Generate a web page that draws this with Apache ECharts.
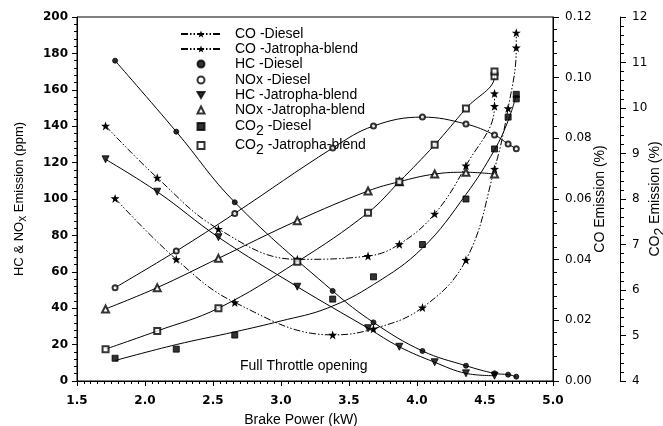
<!DOCTYPE html>
<html>
<head>
<meta charset="utf-8">
<script src="https://cdn.jsdelivr.net/npm/echarts@6/dist/echarts.min.js"></script>
<style>
  html, body { margin: 0; padding: 0; background: #fff; }
  #main { width: 663px; height: 426px; }
</style>
</head>
<body>
<div id="main"></div>
<script>
// brake power (kW) of the test points
var xDiesel = [1.78, 2.23, 2.66, 3.38, 3.68, 4.04, 4.36, 4.57, 4.67, 4.73];
var xDieselEnd = [1.78, 2.23, 2.66, 3.38, 3.68, 4.04, 4.36, 4.57, 4.67, 4.73, 4.73];
var xJatropha = [1.71, 2.09, 2.54, 3.12, 3.64, 3.87, 4.13, 4.36, 4.57];
var xJatrophaEnd = [1.71, 2.09, 2.54, 3.12, 3.64, 3.87, 4.13, 4.36, 4.57, 4.57];

// CO (%)
var coDiesel = [0.0602, 0.0401, 0.0259, 0.0152, 0.0172, 0.0242, 0.0399, 0.0699, 0.0899, 0.1099, 0.1148];
var coJatropha = [0.0841, 0.0670, 0.0501, 0.0401, 0.0412, 0.0451, 0.0551, 0.0710, 0.0906, 0.0948];
// HC & NOx (ppm)
var hcDiesel = [176, 137, 98.2, 49.5, 32.2, 16.5, 8.4, 4.2, 3.5, 2.4];
var noxDiesel = [51.3, 71.4, 92.1, 128, 140.1, 145, 141.2, 135.2, 130.2, 127.6];
var hcJatropha = [121.8, 104, 79, 51.8, 29, 18.8, 10.3, 4.2, 2.9];
var noxJatropha = [39.6, 51.3, 67.4, 88.1, 104.4, 109.5, 113.7, 114.7, 113.7];
// CO2 (%)
var co2Diesel = [4.50, 4.70, 5.01, 5.80, 6.29, 7.00, 8.00, 9.10, 9.80, 10.30, 10.20];
var co2Jatropha = [4.70, 5.10, 5.60, 6.62, 7.70, 8.38, 9.19, 9.99, 10.70, 10.80];
// fitted trend line for CO2 diesel
var xCo2DieselFit = [1.78, 2.23, 2.66, 3.0, 3.34, 3.68, 4.04, 4.36, 4.57, 4.67, 4.73];
var co2DieselFit = [4.45, 4.80, 5.08, 5.32, 5.60, 6.12, 6.92, 8.10, 9.08, 9.72, 10.28];

var leftTicks = { min: 0, max: 200, interval: 20 };
var coTicks = { min: 0, max: 0.12, interval: 0.02 };
var co2Ticks = { min: 4, max: 12, interval: 1 };

var legendNames = ['CO -Diesel', 'CO -Jatropha-blend', 'HC -Diesel', 'NOx -Diesel',
    'HC -Jatropha-blend', 'NOx -Jatropha-blend', 'CO2 -Diesel', 'CO2 -Jatropha-blend'];
var legendRows = [34, 49, 64, 80, 95, 110, 126, 145]; // centre y of each legend row

var FONT = 'Liberation Sans, Arial, sans-serif';
var STAR = 'path://M0,-10L2.35,-3.24L9.51,-3.09L3.8,1.24L5.88,8.09L0,4L-5.88,8.09L-3.8,1.24L-9.51,-3.09L-2.35,-3.24Z';
var DOWN_TRIANGLE = 'path://M0,0L10,0L5,8.66Z';
var DASHDOT = [7, 2, 1.5, 2, 1.5, 2];

function pairs(xs, ys) {
    return xs.map(function (x, i) { return [x, ys[i]]; });
}

// smooth trend curve, no markers, not in legend
function curve(name, xs, ys, axis) {
    return {
        name: name, type: 'line', yAxisIndex: axis, data: pairs(xs, ys),
        smooth: 0.4, symbol: 'none', silent: true, z: 2,
        lineStyle: { color: '#000', width: 1 }
    };
}

// measured points
function points(name, xs, ys, axis, symbol, size, rotate) {
    return {
        name: name, type: 'scatter', yAxisIndex: axis, data: pairs(xs, ys),
        symbol: symbol, symbolSize: size, symbolRotate: rotate || 0, z: 4,
        itemStyle: { color: '#000', borderColor: '#000', borderWidth: 1 }
    };
}

function coLine(name, xs, ys) {
    return {
        name: name, type: 'line', yAxisIndex: 1, data: pairs(xs, ys),
        smooth: 0.4, symbol: STAR, symbolSize: 9, showSymbol: true, z: 3,
        itemStyle: { color: '#000' },
        lineStyle: { color: '#000', width: 1, type: DASHDOT }
    };
}

function axisBase(ticks) {
    return {
        type: 'value', min: ticks.min, max: ticks.max, interval: ticks.interval,
        nameMoveOverlap: false,
        axisLine: { show: true, onZero: false, lineStyle: { color: '#000', width: 1 } },
        axisTick: { show: true, length: 5, lineStyle: { color: '#000' } },
        minorTick: { show: true, splitNumber: 5, length: 3, lineStyle: { color: '#000' } },
        splitLine: { show: false }
    };
}

var subRich = {
    n: { fontFamily: FONT, fontSize: 14, color: '#000', lineHeight: 15, verticalAlign: 'top' },
    s: { fontFamily: FONT, fontSize: 14, color: '#000', lineHeight: 15, verticalAlign: 'top', padding: [5, 0, 0, 0] }
};

var xAxis = axisBase({ min: 1.5, max: 5, interval: 0.5 });
xAxis.minorTick.splitNumber = 10;
xAxis.axisLabel = { fontFamily: 'DejaVu Sans', fontWeight: 'bold', fontSize: 12, color: '#000', margin: 14,
    formatter: function (v) { return v.toFixed(1); } };
xAxis.name = 'Brake Power (kW)';
xAxis.nameLocation = 'middle';
xAxis.nameGap = 32;
xAxis.nameTextStyle = { fontFamily: FONT, fontSize: 14, color: '#000', padding: [0, 28, 0, 0] };

var yLeft = axisBase(leftTicks);
yLeft.position = 'left';
yLeft.axisLabel = { fontFamily: 'DejaVu Sans', fontWeight: 'bold', fontSize: 12, color: '#000', margin: 9 };
yLeft.name = '{n|HC & NO}{s|x}{n| Emission (ppm)}';
yLeft.nameLocation = 'middle';
yLeft.nameGap = 50;
yLeft.nameTextStyle = { rich: {
    n: { fontFamily: FONT, fontSize: 13, color: '#000', lineHeight: 14, verticalAlign: 'top' },
    s: { fontFamily: FONT, fontSize: 12, color: '#000', lineHeight: 14, verticalAlign: 'top', padding: [4, 0, 0, 0] }
} };

var yCo = axisBase(coTicks);
yCo.position = 'right';
yCo.axisTick.length = 6;
yCo.minorTick.length = 4;
yCo.axisLabel = { fontFamily: 'DejaVu Sans', fontSize: 12, color: '#000', margin: 12,
    formatter: function (v) { return v.toFixed(2); } };
yCo.name = 'CO Emission (%)';
yCo.nameLocation = 'middle';
yCo.nameGap = 40;
yCo.nameTextStyle = { fontFamily: FONT, fontSize: 14, color: '#000' };

var yCo2 = axisBase(co2Ticks);
yCo2.position = 'right';
yCo2.offset = 67;
yCo2.axisTick.length = 6;
yCo2.minorTick.length = 4;
yCo2.axisLabel = { fontFamily: 'DejaVu Sans', fontSize: 12, color: '#000', margin: 12 };
yCo2.name = '{n|CO}{s|2}{n| Emission (%)}';
yCo2.nameLocation = 'middle';
yCo2.nameGap = 28;
yCo2.nameTextStyle = { rich: subRich };

// one legend per row so each row sits where the reference has it
var legends = legendNames.map(function (name, i) {
    var isCo = name.indexOf('CO -') === 0;
    var isSub = name.indexOf('CO2') === 0;
    var h = isSub ? 14 : 15;
    var w = isCo ? 40 : 7;
    var item = name.indexOf('HC -Jatropha') === 0 ? { name: name, icon: DOWN_TRIANGLE } : name;
    return {
        orient: 'vertical', padding: 0, selectedMode: false, data: [item],
        left: 200 - w / 2, top: legendRows[i] - h / 2,
        itemWidth: w, itemHeight: isCo ? 9 : 7,
        textStyle: { fontFamily: FONT, fontSize: 14, color: '#000', lineHeight: 15,
            padding: [0, 0, 0, 234 - (200 + w / 2) - 5], rich: subRich },
        formatter: function (n) {
            if (n.indexOf('CO2') === 0) return '{n|CO}{s|2}{n|' + n.slice(3) + '}';
            return n;
        }
    };
});

var chart = echarts.init(document.getElementById('main'), null, { renderer: 'canvas' });
chart.setOption({
    animation: false,
    backgroundColor: '#fff',
    textStyle: { fontFamily: FONT, color: '#000' },
    grid: { left: 77, right: 110, top: 17, bottom: 45, outerBoundsMode: 'none',
        show: true, borderColor: '#000', borderWidth: 1, backgroundColor: 'transparent' },
    legend: legends,
    xAxis: xAxis,
    yAxis: [yLeft, yCo, yCo2],
    graphic: [{
        type: 'text', left: 240, top: 359,
        style: { text: 'Full Throttle opening', fontFamily: FONT, fontSize: 14, fill: '#000' }
    }],
    series: [
        coLine('CO -Diesel', xDieselEnd, coDiesel),
        coLine('CO -Jatropha-blend', xJatrophaEnd, coJatropha),
        curve('fit HC -Diesel', xDiesel, hcDiesel, 0),
        curve('fit NOx -Diesel', xDiesel, noxDiesel, 0),
        curve('fit HC -Jatropha-blend', xJatropha, hcJatropha, 0),
        curve('fit NOx -Jatropha-blend', xJatropha, noxJatropha, 0),
        curve('fit CO2 -Diesel', xCo2DieselFit, co2DieselFit, 2),
        curve('fit CO2 -Jatropha-blend', xJatrophaEnd, co2Jatropha, 2),
        points('HC -Diesel', xDiesel, hcDiesel, 0, 'circle', 5),
        points('NOx -Diesel', xDiesel, noxDiesel, 0, 'emptyCircle', 5),
        points('HC -Jatropha-blend', xJatropha, hcJatropha, 0, 'triangle', 7, 180),
        points('NOx -Jatropha-blend', xJatropha, noxJatropha, 0, 'emptyTriangle', 7),
        points('CO2 -Diesel', xDieselEnd, co2Diesel, 2, 'rect', 6),
        points('CO2 -Jatropha-blend', xJatrophaEnd, co2Jatropha, 2, 'emptyRect', 6)
    ]
});
</script>
</body>
</html>
